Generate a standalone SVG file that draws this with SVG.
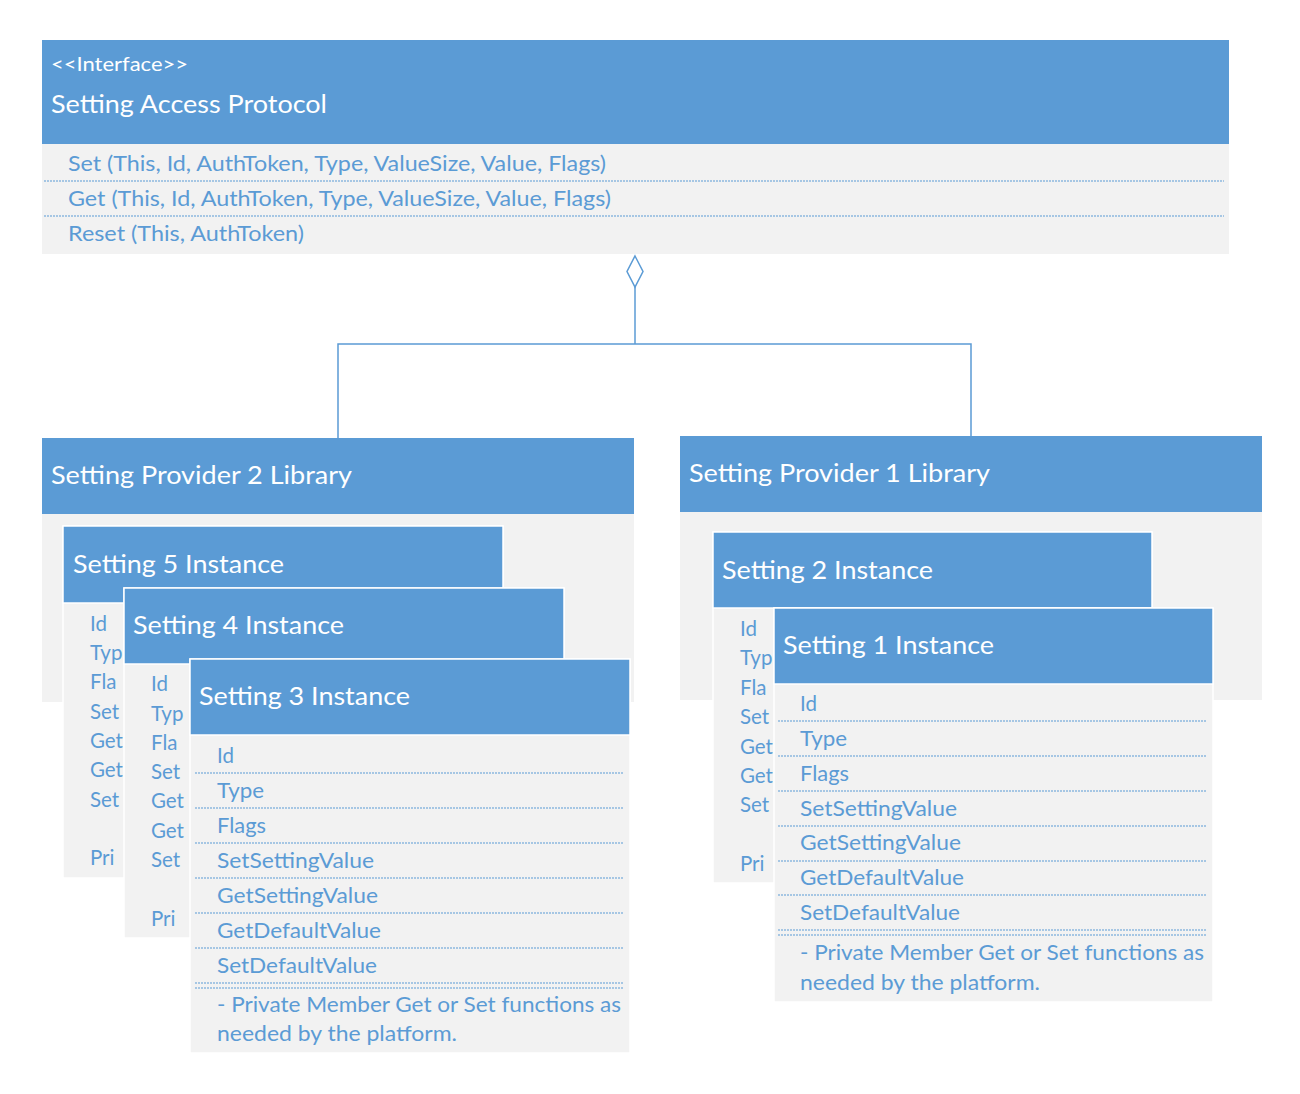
<svg xmlns="http://www.w3.org/2000/svg" width="1300" height="1094" viewBox="0 0 1300 1094">
<style>
.hd{fill:#5B9BD5}
.bd{fill:#F2F2F2}
.card{stroke:#FFFFFF;stroke-width:1.5}
.t{font-family:Lato,"Liberation Sans",sans-serif;fill:#FFFFFF}
.h1{font-size:25px}
.h0{font-size:19px}
.i{font-family:Lato,"Liberation Sans",sans-serif;fill:#5B9BD5;font-size:20.5px}
.dl{stroke:#5B9BD5;stroke-width:1;stroke-dasharray:2 1;fill:none}
.cn{stroke:#5B9BD5;stroke-width:1.5;fill:none}
</style>
<rect width="1300" height="1094" fill="#FFFFFF"/>

<g id="connectors">
<polyline class="cn" points="338,438 338,344 971,344 971,436"/>
<line class="cn" x1="635" y1="287" x2="635" y2="344"/>
<polygon class="cn" points="635,256 643,271.5 635,287 627,271.5" fill="#FFFFFF"/>
</g>

<g id="interface">
<rect class="hd" x="42" y="40" width="1187" height="104"/>
<rect class="bd" x="42" y="144" width="1187" height="110"/>
<text class="t h0" x="51" y="71" textLength="137" lengthAdjust="spacingAndGlyphs">&lt;&lt;Interface&gt;&gt;</text>
<text class="t h1" x="51" y="113" textLength="276" lengthAdjust="spacingAndGlyphs">Setting Access Protocol</text>
<text class="i" x="68" y="171" textLength="538" lengthAdjust="spacingAndGlyphs">Set (This, Id, AuthToken, Type, ValueSize, Value, Flags)</text>
<line class="dl" x1="44" y1="181" x2="1224" y2="181"/>
<text class="i" x="68" y="206" textLength="543" lengthAdjust="spacingAndGlyphs">Get (This, Id, AuthToken, Type, ValueSize, Value, Flags)</text>
<line class="dl" x1="44" y1="216" x2="1224" y2="216"/>
<text class="i" x="68" y="241" textLength="236" lengthAdjust="spacingAndGlyphs">Reset (This, AuthToken)</text>
</g>

<g id="provider2">
<rect class="hd" x="42" y="438" width="592" height="76"/>
<rect class="bd" x="42" y="514" width="592" height="188"/>
<text class="t h1" x="51" y="484" textLength="301" lengthAdjust="spacingAndGlyphs">Setting Provider 2 Library</text>
</g>

<g id="provider1">
<rect class="hd" x="680" y="436" width="582" height="76"/>
<rect class="bd" x="680" y="512" width="582" height="188"/>
<text class="t h1" x="689" y="482" textLength="301" lengthAdjust="spacingAndGlyphs">Setting Provider 1 Library</text>
</g>

<g id="setting5">
<rect class="bd card" x="63" y="526" width="440" height="352"/>
<rect class="hd card" x="63" y="526" width="440" height="77"/>
<text class="t h1" x="73" y="573" textLength="211" lengthAdjust="spacingAndGlyphs">Setting 5 Instance</text>
<text class="i" x="90" y="631">Id</text>
<text class="i" x="90" y="660">Typ</text>
<text class="i" x="90" y="689">Fla</text>
<text class="i" x="90" y="719">Set</text>
<text class="i" x="90" y="748">Get</text>
<text class="i" x="90" y="777">Get</text>
<text class="i" x="90" y="807">Set</text>
<text class="i" x="90" y="865">Pri</text>
</g>

<g id="setting4">
<rect class="bd card" x="124" y="588" width="440" height="350"/>
<rect class="hd card" x="124" y="588" width="440" height="76"/>
<text class="t h1" x="133" y="634" textLength="211" lengthAdjust="spacingAndGlyphs">Setting 4 Instance</text>
<text class="i" x="151" y="691">Id</text>
<text class="i" x="151" y="721">Typ</text>
<text class="i" x="151" y="750">Fla</text>
<text class="i" x="151" y="779">Set</text>
<text class="i" x="151" y="808">Get</text>
<text class="i" x="151" y="838">Get</text>
<text class="i" x="151" y="867">Set</text>
<text class="i" x="151" y="926">Pri</text>
</g>

<g id="setting3">
<rect class="bd card" x="190" y="659" width="440" height="394"/>
<rect class="hd card" x="190" y="659" width="440" height="76"/>
<text class="t h1" x="199" y="705" textLength="211" lengthAdjust="spacingAndGlyphs">Setting 3 Instance</text>
<text class="i" x="217" y="763">Id</text>
<line class="dl" x1="195" y1="773" x2="624" y2="773"/>
<text class="i" x="217" y="798" textLength="47" lengthAdjust="spacingAndGlyphs">Type</text>
<line class="dl" x1="195" y1="808" x2="624" y2="808"/>
<text class="i" x="217" y="833" textLength="49" lengthAdjust="spacingAndGlyphs">Flags</text>
<line class="dl" x1="195" y1="843" x2="624" y2="843"/>
<text class="i" x="217" y="868" textLength="157" lengthAdjust="spacingAndGlyphs">SetSettingValue</text>
<line class="dl" x1="195" y1="878" x2="624" y2="878"/>
<text class="i" x="217" y="903" textLength="161" lengthAdjust="spacingAndGlyphs">GetSettingValue</text>
<line class="dl" x1="195" y1="913" x2="624" y2="913"/>
<text class="i" x="217" y="938" textLength="164" lengthAdjust="spacingAndGlyphs">GetDefaultValue</text>
<line class="dl" x1="195" y1="948" x2="624" y2="948"/>
<text class="i" x="217" y="973" textLength="160" lengthAdjust="spacingAndGlyphs">SetDefaultValue</text>
<line class="dl" x1="195" y1="983" x2="624" y2="983"/>
<line class="dl" x1="195" y1="988" x2="624" y2="988"/>
<text class="i" x="217" y="1012" textLength="404" lengthAdjust="spacingAndGlyphs">- Private Member Get or Set functions as</text>
<text class="i" x="217" y="1041" textLength="240" lengthAdjust="spacingAndGlyphs">needed by the platform.</text>
</g>

<g id="setting2">
<rect class="bd card" x="713" y="532" width="439" height="351"/>
<rect class="hd card" x="713" y="532" width="439" height="76"/>
<text class="t h1" x="722" y="579" textLength="211" lengthAdjust="spacingAndGlyphs">Setting 2 Instance</text>
<text class="i" x="740" y="636">Id</text>
<text class="i" x="740" y="665">Typ</text>
<text class="i" x="740" y="695">Fla</text>
<text class="i" x="740" y="724">Set</text>
<text class="i" x="740" y="754">Get</text>
<text class="i" x="740" y="783">Get</text>
<text class="i" x="740" y="812">Set</text>
<text class="i" x="740" y="871">Pri</text>
</g>

<g id="setting1">
<rect class="bd card" x="774" y="608" width="439" height="394"/>
<rect class="hd card" x="774" y="608" width="439" height="76"/>
<text class="t h1" x="783" y="654" textLength="211" lengthAdjust="spacingAndGlyphs">Setting 1 Instance</text>
<text class="i" x="800" y="711">Id</text>
<line class="dl" x1="778" y1="721" x2="1207" y2="721"/>
<text class="i" x="800" y="746" textLength="47" lengthAdjust="spacingAndGlyphs">Type</text>
<line class="dl" x1="778" y1="756" x2="1207" y2="756"/>
<text class="i" x="800" y="781" textLength="49" lengthAdjust="spacingAndGlyphs">Flags</text>
<line class="dl" x1="778" y1="791" x2="1207" y2="791"/>
<text class="i" x="800" y="816" textLength="157" lengthAdjust="spacingAndGlyphs">SetSettingValue</text>
<line class="dl" x1="778" y1="826" x2="1207" y2="826"/>
<text class="i" x="800" y="850" textLength="161" lengthAdjust="spacingAndGlyphs">GetSettingValue</text>
<line class="dl" x1="778" y1="861" x2="1207" y2="861"/>
<text class="i" x="800" y="885" textLength="164" lengthAdjust="spacingAndGlyphs">GetDefaultValue</text>
<line class="dl" x1="778" y1="895" x2="1207" y2="895"/>
<text class="i" x="800" y="920" textLength="160" lengthAdjust="spacingAndGlyphs">SetDefaultValue</text>
<line class="dl" x1="778" y1="930" x2="1207" y2="930"/>
<line class="dl" x1="778" y1="935" x2="1207" y2="935"/>
<text class="i" x="800" y="960" textLength="404" lengthAdjust="spacingAndGlyphs">- Private Member Get or Set functions as</text>
<text class="i" x="800" y="990" textLength="240" lengthAdjust="spacingAndGlyphs">needed by the platform.</text>
</g>
</svg>
